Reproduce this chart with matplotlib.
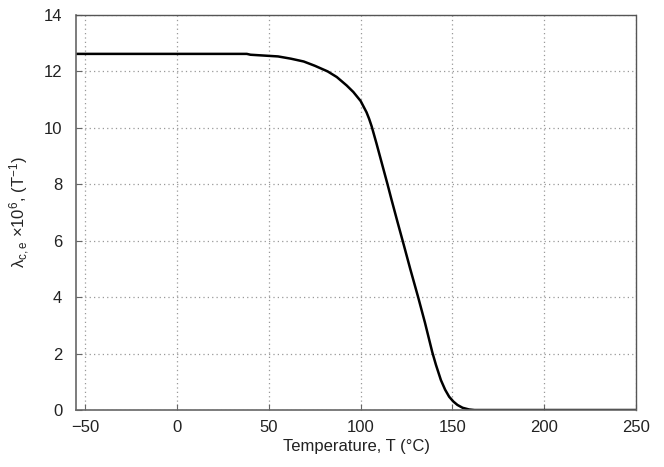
import numpy as np
import matplotlib
matplotlib.use('Agg')
import matplotlib.pyplot as plt

# values
temp = [-55, 38, 40, 55, 62, 69, 75, 82, 87, 92.4, 96, 100, 103.2, 104.6, 106,
        108.6, 111.3, 114.5, 116.7, 120, 123.4, 127, 131.3, 135, 139, 141, 143.7,
        146, 148.2, 150.5, 152.7, 155.5, 159, 162, 250]
lam = [12.62, 12.62, 12.59, 12.53, 12.45, 12.35, 12.2, 12.0, 11.8, 11.5, 11.27,
       10.95, 10.55, 10.32, 10.05, 9.45, 8.8, 8.03, 7.48, 6.68, 5.87, 5.0, 4.0,
       3.1, 2.05, 1.6, 1.06, 0.72, 0.47, 0.3, 0.18, 0.08, 0.02, 0.0, 0.0]

xticks = [-50, 0, 50, 100, 150, 200, 250]
yticks = [0, 2, 4, 6, 8, 10, 12, 14]

plt.rcParams['font.family'] = ['Liberation Sans', 'DejaVu Sans']
plt.rcParams['mathtext.fontset'] = 'custom'
plt.rcParams['mathtext.rm'] = 'Liberation Sans'
plt.rcParams['mathtext.it'] = 'Liberation Sans:italic'

fig = plt.figure(figsize=(6.64, 4.67), dpi=100)
ax = fig.add_axes([0.1145, 0.122, 0.8435, 0.846])

ax.plot(temp, lam, color='black', lw=1.8, solid_joinstyle='round')

ax.set_xlim(-55, 250)
ax.set_ylim(0, 14)
ax.set_xticks(xticks)
ax.set_yticks(yticks)
ax.grid(True, linestyle=(0, (1, 2.5)), color='#999999', lw=0.9)

for s in ['left', 'bottom']:
    ax.spines[s].set_color('#666666')
    ax.spines[s].set_linewidth(1.2)
for s in ['top', 'right']:
    ax.spines[s].set_color('#555555')
    ax.spines[s].set_linestyle((0, (1, 1)))
    ax.spines[s].set_linewidth(1.0)

ax.tick_params(direction='in', length=4, color='#666666', labelsize=12,
               labelcolor='#222222')
ax.tick_params(axis='x', pad=7)
ax.tick_params(axis='y', pad=10)

ax.set_xlabel('Temperature, T (°C)', fontsize=12, color='#222222', labelpad=3)
ax.set_ylabel(r'λ$_{\mathrm{c,e}}$ ×10$^{6}$, (T$^{-1}$)', fontsize=12,
              color='#222222', labelpad=8)

fig.savefig('out.png', dpi=100)
